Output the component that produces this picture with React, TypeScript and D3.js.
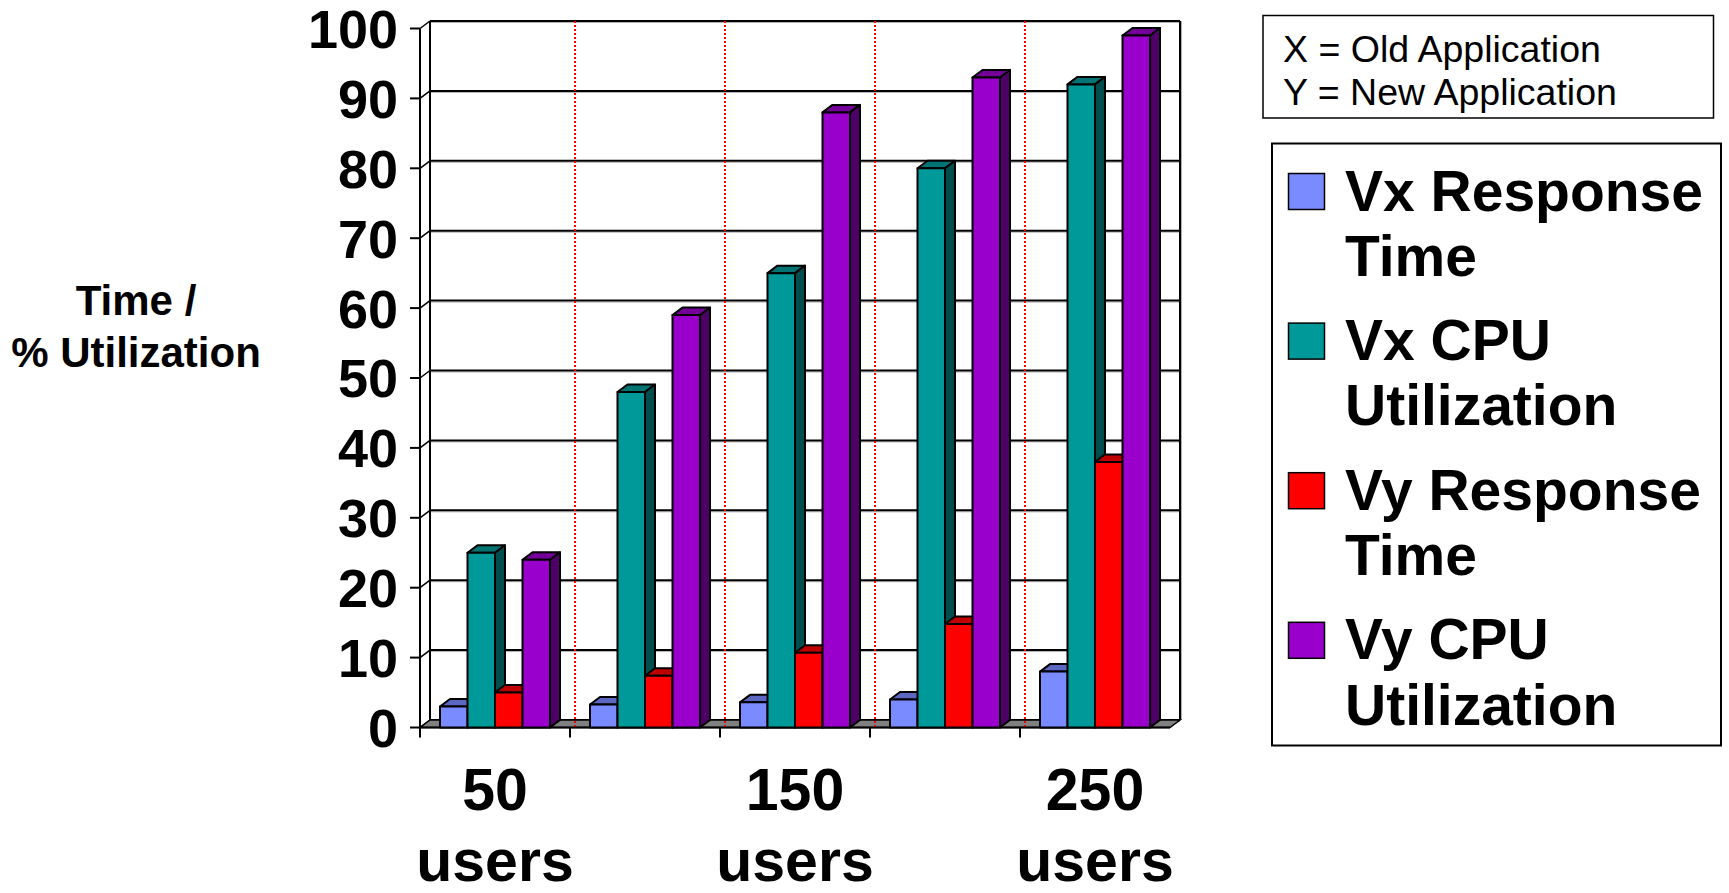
import React from "react";
import * as d3 from "d3";

const categories = ["50 users", "100 users", "150 users", "200 users", "250 users"];
const shownLabels = [["50", "users"], null, ["150", "users"], null, ["250", "users"]];
const seriesNames = ["Vx Response Time", "Vx CPU Utilization", "Vy Response Time", "Vy CPU Utilization"];
const legendLines = [["Vx Response", "Time"], ["Vx CPU", "Utilization"], ["Vy Response", "Time"], ["Vy CPU", "Utilization"]];
const vxResponse = [3, 3.3, 3.6, 4, 8];
const vxCpu = [25, 48, 65, 80, 92];
const vyResponse = [5, 7.4, 10.7, 14.8, 38];
const vyCpu = [24, 59, 88, 93, 99];
const yTicks = [0, 10, 20, 30, 40, 50, 60, 70, 80, 90, 100];
const noteLines = ["X = Old Application", "Y = New Application"];

const frontColors = ["#7A8AFF", "#009999", "#FF0000", "#9900CC"];
const topColors = ["#5B67C0", "#007373", "#C00000", "#730099"];
const sideColors = ["#3D4580", "#004D4D", "#800000", "#4D0066"];

const FONT = "'Liberation Sans', Arial, Helvetica, sans-serif";
const DX = 10;
const DY = -7.5;

export default function App() {
  const series = [vxResponse, vxCpu, vyResponse, vyCpu];
  const x0 = d3.scaleBand<string>().domain(categories).range([420, 1170]).paddingInner(0).paddingOuter(0);
  const x1 = d3.scaleBand<string>().domain(seriesNames).range([20, 130]).padding(0);
  const y = d3.scaleLinear().domain([0, 100]).range([727.5, 28.5]);
  const bw = x1.bandwidth();
  const left = x0.range()[0];
  const right = x0.range()[1];
  const y0 = y(0);
  const yTop = y(100);

  const bars: any[] = [];
  categories.forEach((c, ci) => {
    seriesNames.forEach((s, si) => {
      const v = series[si][ci];
      const bx = (x0(c) as number) + (x1(s) as number);
      const by = y(v);
      bars.push({ key: c + s, bx, by, si });
    });
  });

  const boundaries = categories.map((c) => x0(c) as number);

  return (
    <svg width={1729} height={893} style={{ position: "absolute", left: 0, top: 0 }} fontFamily={FONT}>
      <rect x={0} y={0} width={1729} height={893} fill="#fff" />
      {/* back wall gridlines */}
      {yTicks.map((t) => (
        <g key={"g" + t}>
          <line x1={left + DX} x2={right + DX} y1={y(t) + DY + 1.5} y2={y(t) + DY + 1.5} stroke="#b0b0b0" strokeWidth={1} />
          <line x1={left + DX} x2={right + DX} y1={y(t) + DY} y2={y(t) + DY} stroke="#000" strokeWidth={2} />
          <line x1={left} x2={left + DX} y1={y(t)} y2={y(t) + DY} stroke="#000" strokeWidth={1.5} />
          <line x1={left - 10} x2={left} y1={y(t)} y2={y(t)} stroke="#000" strokeWidth={2} />
        </g>
      ))}
      {/* back wall edges */}
      <line x1={left + DX} x2={left + DX} y1={yTop + DY} y2={y0 + DY} stroke="#000" strokeWidth={2} />
      <line x1={right + DX + 1.5} x2={right + DX + 1.5} y1={yTop + DY} y2={y0 + DY} stroke="#b0b0b0" strokeWidth={1} />
      <line x1={right + DX} x2={right + DX} y1={yTop + DY} y2={y0 + DY} stroke="#000" strokeWidth={2} />
      {/* floor */}
      <path
        d={`M${left},${y0} L${right},${y0} L${right + DX},${y0 + DY} L${left + DX},${y0 + DY} Z`}
        fill="#808080"
        stroke="#000"
        strokeWidth={1.5}
      />
      {/* red dotted category separators */}
      {boundaries.slice(1).map((b, i) => (
        <line key={"r" + i} x1={b + 5} x2={b + 5} y1={yTop + DY} y2={y0} stroke="#FF0000" strokeWidth={2} strokeDasharray="2,2" />
      ))}
      {/* front y axis */}
      <line x1={left} x2={left} y1={yTop} y2={y0} stroke="#000" strokeWidth={2} />
      {/* x axis */}
      <line x1={left} x2={right} y1={y0} y2={y0} stroke="#000" strokeWidth={2} />
      {boundaries.map((b, i) => (
        <line key={"xt" + i} x1={b} x2={b} y1={y0} y2={y0 + 10} stroke="#000" strokeWidth={2} />
      ))}
      {/* bars */}
      {bars.map((b) => {
        const { bx, by, si } = b;
        return (
          <g key={b.key} stroke="#000" strokeWidth={2} strokeLinejoin="round">
            <path d={`M${bx},${by} L${bx + DX},${by + DY} L${bx + bw + DX},${by + DY} L${bx + bw},${by} Z`} fill={topColors[si]} />
            <path d={`M${bx + bw},${by} L${bx + bw + DX},${by + DY} L${bx + bw + DX},${y0 + DY} L${bx + bw},${y0} Z`} fill={sideColors[si]} />
            <rect x={bx} y={by} width={bw} height={y0 - by} fill={frontColors[si]} />
          </g>
        );
      })}
      {/* y tick labels */}
      {yTicks.map((t) => (
        <text key={"yl" + t} x={398} y={y(t)} dy="0.36em" textAnchor="end" fontSize={54} fontWeight="bold" fill="#000">
          {t}
        </text>
      ))}
      {/* x labels */}
      {categories.map((c, i) =>
        shownLabels[i] ? (
          <text key={"xl" + i} textAnchor="middle" fontSize={59} fontWeight="bold" fill="#000">
            <tspan x={(x0(c) as number) + x0.bandwidth() / 2} y={810}>{shownLabels[i]![0]}</tspan>
            <tspan x={(x0(c) as number) + x0.bandwidth() / 2} y={881}>{shownLabels[i]![1]}</tspan>
          </text>
        ) : null
      )}
      {/* axis title */}
      <text textAnchor="middle" fontSize={42} fontWeight="bold" fill="#000">
        <tspan x={136} y={315}>Time /</tspan>
        <tspan x={136} y={366.5}>% Utilization</tspan>
      </text>
      {/* notes box */}
      <rect x={1263} y={15.5} width={450.5} height={102.5} fill="#fff" stroke="#000" strokeWidth={1.5} />
      {noteLines.map((l, i) => (
        <text key={"n" + i} x={1283} y={61.5 + i * 43} fontSize={37.5} fill="#000">
          {l}
        </text>
      ))}
      {/* series legend */}
      <rect x={1272} y={143.5} width={449} height={602} fill="#fff" stroke="#000" strokeWidth={2} />
      {legendLines.map((lines, i) => (
        <g key={"lg" + i}>
          <rect x={1288.5} y={173.5 + i * 149.6} width={36} height={36} fill={frontColors[i]} stroke="#000" strokeWidth={1.5} />
          <text fontSize={57} fontWeight="bold" fill="#000">
            <tspan x={1345} y={210.6 + i * 149.6}>{lines[0]}</tspan>
            <tspan x={1345} y={275.7 + i * 149.6}>{lines[1]}</tspan>
          </text>
        </g>
      ))}
    </svg>
  );
}
